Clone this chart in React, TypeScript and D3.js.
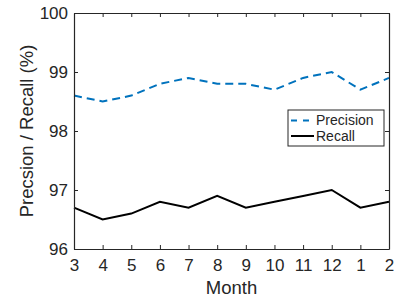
import { useEffect, useRef } from "react";
import * as d3 from "d3";

const MONTHS = ["3", "4", "5", "6", "7", "8", "9", "10", "11", "12", "1", "2"];
const PRECISION = [98.6, 98.5, 98.6, 98.8, 98.9, 98.8, 98.8, 98.7, 98.9, 99.0, 98.7, 98.9];
const RECALL = [96.7, 96.5, 96.6, 96.8, 96.7, 96.9, 96.7, 96.8, 96.9, 97.0, 96.7, 96.8];
const Y_TICKS = [96, 97, 98, 99, 100];

const W = 398;
const H = 301;
const FONT = "'Liberation Sans', Arial, Helvetica, sans-serif";
const AXIS = "#262626";
const BLUE = "#0072BD";

export default function App() {
  const svgRef = useRef<SVGSVGElement>(null);

  useEffect(() => {
    if (!svgRef.current) return;
    const margin = { top: 13, right: 9, bottom: 52, left: 74 };
    const innerW = W - margin.left - margin.right;
    const innerH = H - margin.top - margin.bottom;

    const svg = d3.select(svgRef.current);
    svg.selectAll("*").remove();
    svg.append("rect").attr("width", W).attr("height", H).attr("fill", "#fff");

    const g = svg.append("g").attr("transform", `translate(${margin.left},${margin.top})`);

    const x = d3.scalePoint<string>().domain(MONTHS).range([0, innerW]);
    const y = d3.scaleLinear().domain([96, 100]).range([innerH, 0]);

    const line = d3
      .line<number>()
      .x((_, i) => x(MONTHS[i]) ?? 0)
      .y((d) => y(d));

    // Data lines
    g.append("path")
      .datum(RECALL)
      .attr("d", line)
      .attr("fill", "none")
      .attr("stroke", "#000")
      .attr("stroke-width", 2);

    g.append("path")
      .datum(PRECISION)
      .attr("d", line)
      .attr("fill", "none")
      .attr("stroke", BLUE)
      .attr("stroke-width", 2)
      .attr("stroke-dasharray", "8,5");

    // Box axes, ticks pointing inward like MATLAB
    const xAxis = g
      .append("g")
      .attr("transform", `translate(0,${innerH})`)
      .call(d3.axisBottom(x).tickSizeInner(-4).tickSizeOuter(0).tickPadding(8));
    const xAxisTop = g
      .append("g")
      .call(d3.axisTop(x).tickSizeInner(-4).tickSizeOuter(0).tickFormat(() => ""));
    const yAxis = g
      .append("g")
      .call(
        d3
          .axisLeft(y)
          .tickValues(Y_TICKS)
          .tickFormat(d3.format("d"))
          .tickSizeInner(-4)
          .tickSizeOuter(0)
          .tickPadding(6)
      );
    const yAxisRight = g
      .append("g")
      .attr("transform", `translate(${innerW},0)`)
      .call(
        d3.axisRight(y).tickValues(Y_TICKS).tickSizeInner(-4).tickSizeOuter(0).tickFormat(() => "")
      );

    [xAxis, xAxisTop, yAxis, yAxisRight].forEach((a) => {
      a.select(".domain").attr("stroke", AXIS).attr("stroke-width", 1.2);
      a.selectAll(".tick line").attr("stroke", AXIS).attr("stroke-width", 1);
      a.selectAll(".tick text")
        .attr("fill", AXIS)
        .attr("font-family", FONT)
        .attr("font-size", "17px");
    });
    xAxis.selectAll(".tick text").attr("dy", "0.85em");

    // Axis labels
    svg
      .append("text")
      .attr("x", margin.left + innerW / 2)
      .attr("y", 294)
      .attr("text-anchor", "middle")
      .attr("font-family", FONT)
      .attr("font-size", "18.5px")
      .attr("fill", AXIS)
      .text("Month");

    svg
      .append("text")
      .attr("transform", `translate(33,${margin.top + innerH / 2}) rotate(-90)`)
      .attr("text-anchor", "middle")
      .attr("font-family", FONT)
      .attr("font-size", "18.5px")
      .attr("fill", AXIS)
      .text("Precsion / Recall (%)");

    // Legend
    const legend = svg.append("g").attr("transform", "translate(288,110)");
    legend
      .append("rect")
      .attr("width", 96)
      .attr("height", 36)
      .attr("fill", "#fff")
      .attr("stroke", AXIS)
      .attr("stroke-width", 1);
    const items = [
      { label: "Precision", color: BLUE, dash: "6,6" },
      { label: "Recall", color: "#000", dash: null as string | null },
    ];
    items.forEach((it, i) => {
      const ly = 10.5 + i * 15.5;
      const l = legend
        .append("line")
        .attr("x1", 3)
        .attr("x2", 26)
        .attr("y1", ly)
        .attr("y2", ly)
        .attr("stroke", it.color)
        .attr("stroke-width", 2);
      if (it.dash) l.attr("stroke-dasharray", it.dash);
      legend
        .append("text")
        .attr("x", 28)
        .attr("y", ly)
        .attr("dy", "0.35em")
        .attr("font-family", FONT)
        .attr("font-size", "14px")
        .attr("fill", AXIS)
        .text(it.label);
    });
  }, []);

  return (
    <svg
      ref={svgRef}
      width={W}
      height={H}
      style={{ position: "fixed", left: 0, top: 0, display: "block" }}
    />
  );
}
